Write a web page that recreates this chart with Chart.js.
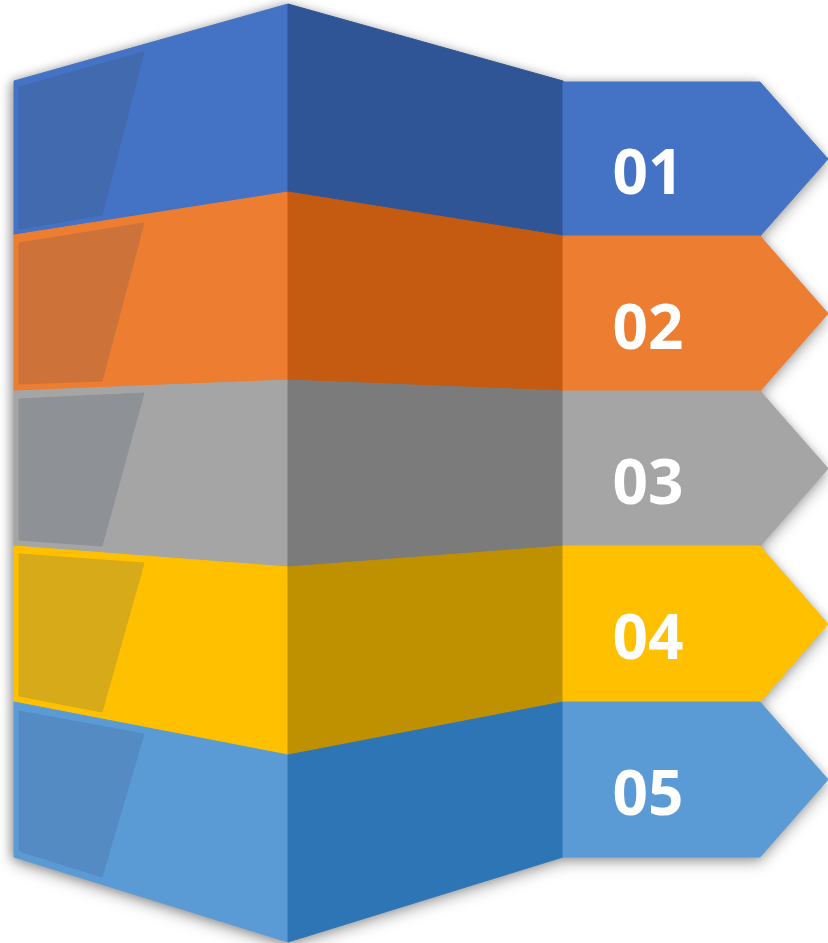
<!DOCTYPE html>
<html>
<head>
<meta charset="utf-8">
<script src="https://cdn.jsdelivr.net/npm/chart.js@4.4.1/dist/chart.umd.min.js"></script>
<style>
  html, body { margin: 0; padding: 0; background: #ffffff; }
  #wrap { width: 828px; height: 943px; }
  #stack { filter: drop-shadow(-3px 0 5px rgba(0,0,0,0.22)) drop-shadow(0 5px 7px rgba(0,0,0,0.3)); }
</style>
</head>
<body>
<div id="wrap"><canvas id="stack" width="828" height="943"></canvas></div>
<script>
// ---------------- Data ----------------
const labels = ['01', '02', '03', '04', '05'];

// y of the band edges: left corner, fold, right corner (top to bottom)
const leftEdgeY  = [81, 235, 391, 546, 702, 857];
const foldY      = [4, 192, 380, 567, 755, 942];
const rightEdgeY = [81, 236, 391, 546, 702, 857];
const arrowY     = [82, 236, 391, 546, 702, 857];

// lighter panel on the left face of each band
const panelTopL = [87, 243, 399, 554, 711];
const panelTopR = [52, 223, 393, 563, 734];
const panelBotR = [215, 381, 546, 712, 877];
const panelBotL = [229, 384, 540, 696, 851];

// x columns
const leftX = 14, foldX = 288, rightX = 563, shoulderX = 760, tipX = 828;
const panelL = 19, panelTR = 144, panelBR = 102;
const labelX = 648;

// colours
const faceColors  = ['#4472C4', '#ED7D31', '#A5A5A5', '#FFC000', '#5B9BD5'];
const sideColors  = ['#2F5597', '#C55A11', '#7B7B7B', '#BF9000', '#2E75B6'];
const panelColors = ['#416AAF', '#CD733A', '#8E9195', '#D6AA18', '#548BC2'];

// ---------------- Shapes ----------------
function poly(pts){
  const out = pts.map(p => ({ x: p[0], y: p[1] }));
  out.push({ x: pts[0][0], y: pts[0][1] });
  return out;
}

function shape(pts, color){
  return {
    data: poly(pts),
    backgroundColor: color,
    borderColor: color,
    borderWidth: 1,
    fill: 'shape',
    tension: 0,
    pointRadius: 0,
    pointHoverRadius: 0
  };
}

const layers = [];
labels.forEach((lab, i) => {
  layers.push(shape([[leftX, leftEdgeY[i]], [foldX, foldY[i]], [foldX, foldY[i+1]], [leftX, leftEdgeY[i+1]]], faceColors[i]));
});
labels.forEach((lab, i) => {
  layers.push(shape([[foldX, foldY[i]], [rightX, rightEdgeY[i]], [rightX, rightEdgeY[i+1]], [foldX, foldY[i+1]]], sideColors[i]));
});
labels.forEach((lab, i) => {
  layers.push(shape([[panelL, panelTopL[i]], [panelTR, panelTopR[i]], [panelBR, panelBotR[i]], [panelL, panelBotL[i]]], panelColors[i]));
});
labels.forEach((lab, i) => {
  const mid = (arrowY[i] + arrowY[i+1]) / 2;
  layers.push(shape([[rightX, arrowY[i]], [shoulderX, arrowY[i]], [tipX, mid], [shoulderX, arrowY[i+1]], [rightX, arrowY[i+1]]], faceColors[i]));
});
// later layers on top
layers.forEach((ds, i) => { ds.order = layers.length - i; });

// ---------------- Labels on the arrows ----------------
const arrowLabels = {
  id: 'arrowLabels',
  afterDatasetsDraw(chart){
    const { ctx, scales } = chart;
    ctx.save();
    ctx.fillStyle = '#ffffff';
    ctx.font = 'bold 62px "Open Sans"';
    ctx.textAlign = 'center';
    ctx.textBaseline = 'alphabetic';
    labels.forEach((lab, i) => {
      const mid = (arrowY[i] + arrowY[i+1]) / 2;
      ctx.fillText(lab, scales.x.getPixelForValue(labelX), scales.y.getPixelForValue(mid + 35));
    });
    ctx.restore();
  }
};

// ---------------- Chart ----------------
function draw(){
  new Chart(document.getElementById('stack'), {
    type: 'line',
    data: { datasets: layers },
    options: {
      responsive: false,
      animation: false,
      events: [],
      layout: { padding: 0 },
      scales: {
        x: { type: 'linear', min: 0, max: 828, display: false },
        y: { type: 'linear', min: 0, max: 943, reverse: true, display: false }
      },
      plugins: { legend: { display: false }, tooltip: { enabled: false } }
    },
    plugins: [arrowLabels]
  });
}

document.fonts.load('bold 62px "Open Sans"').then(draw, draw);
</script>
</body>
</html>
